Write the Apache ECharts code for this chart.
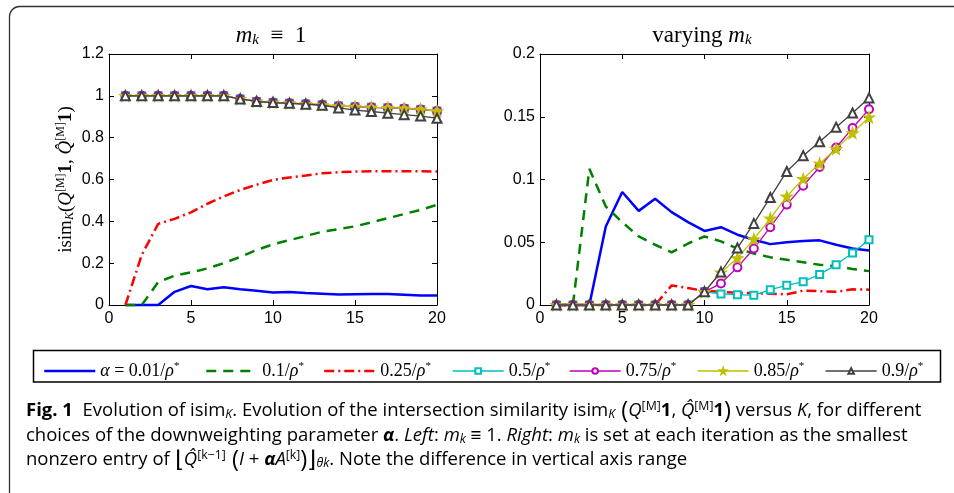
<!DOCTYPE html>
<html><head><meta charset="utf-8">
<script src="https://cdn.jsdelivr.net/npm/echarts@6/dist/echarts.min.js"></script>
<style>html,body{margin:0;padding:0;background:#fff}#c{width:954px;height:493px}</style>
</head><body><div id="c"></div>
<script>
// ---------- data ----------
const K = [1,2,3,4,5,6,7,8,9,10,11,12,13,14,15,16,17,18,19,20];
const SERIES_NAMES = ['α = 0.01/ρ*','0.1/ρ*','0.25/ρ*','0.5/ρ*','0.75/ρ*','0.85/ρ*','0.9/ρ*'];
const X_TICKS = [0,5,10,15,20];
const LEFT_Y_TICKS = [0,0.2,0.4,0.6,0.8,1,1.2];
const RIGHT_Y_TICKS = [0,0.05,0.1,0.15,0.2];

// left panel: m_k = 1
const L_001 = [0,0,0,0.063,0.091,0.075,0.085,0.075,0.068,0.060,0.062,0.057,0.054,0.050,0.051,0.052,0.052,0.049,0.046,0.045];
const L_01  = [0,0,0.11,0.14,0.156,0.175,0.2,0.23,0.263,0.29,0.31,0.33,0.35,0.363,0.376,0.395,0.415,0.435,0.455,0.479];
const L_025 = [0,0.24,0.388,0.412,0.443,0.484,0.519,0.55,0.575,0.598,0.61,0.619,0.63,0.635,0.638,0.639,0.639,0.639,0.639,0.638];
const L_05  = [1,1,1,1,1,1,1,0.985,0.973,0.968,0.965,0.961,0.957,0.951,0.948,0.945,0.943,0.94,0.935,0.927];
const L_075 = [1,1,1,1,1,1,1,0.985,0.973,0.968,0.965,0.961,0.957,0.951,0.948,0.945,0.943,0.94,0.935,0.927];
const L_085 = [1,1,1,1,1,1,1,0.985,0.973,0.968,0.965,0.961,0.957,0.951,0.948,0.945,0.943,0.94,0.935,0.927];
const L_09  = [1,1,1,1,1,1,1,0.985,0.973,0.968,0.964,0.96,0.955,0.942,0.932,0.925,0.917,0.91,0.903,0.893];

// right panel: varying m_k
const R_001 = [0,0,0,0.0626,0.09,0.075,0.0846,0.074,0.066,0.059,0.062,0.056,0.052,0.0485,0.05,0.051,0.0515,0.048,0.045,0.0435];
const R_01  = [0,0,0.1085,0.0785,0.066,0.0546,0.048,0.042,0.049,0.0546,0.0507,0.045,0.041,0.038,0.036,0.034,0.032,0.031,0.0287,0.027];
const R_025 = [0,0,0,0,0,0,0,0.0156,0.0135,0.0112,0.0105,0.0098,0.0093,0.009,0.0085,0.0114,0.011,0.0105,0.0125,0.0122];
const R_05  = [0,0,0,0,0,0,0,0,0,0.0105,0.0088,0.0082,0.0077,0.0122,0.0157,0.0186,0.0244,0.032,0.0414,0.052];
const R_075 = [0,0,0,0,0,0,0,0,0,0.0105,0.0172,0.030,0.045,0.062,0.080,0.095,0.11,0.1255,0.141,0.156];
const R_085 = [0,0,0,0,0,0,0,0,0,0.0105,0.026,0.0374,0.0525,0.069,0.0865,0.1005,0.1127,0.1244,0.137,0.1496];
const R_09  = [0,0,0,0,0,0,0,0,0,0.0105,0.0263,0.0454,0.065,0.0857,0.1064,0.119,0.13,0.1417,0.153,0.165];

const LEFT_DATA  = [L_001, L_01, L_025, L_05, L_075, L_085, L_09];
const RIGHT_DATA = [R_001, R_01, R_025, R_05, R_075, R_085, R_09];

// ---------- styles ----------
const SANS = '"Liberation Sans", Arial, Helvetica, sans-serif';
const SERIF = '"Liberation Serif", "Times New Roman", serif';
const CAP = '"Open Sans", "Noto Sans", sans-serif';
const STAR = 'path://M50,0 L61.8,35.1 L98.1,34.5 L69,56.3 L79.4,90.5 L50,70 L20.6,90.5 L31,56.3 L1.9,34.5 L38.2,35.1 Z';
const STYLE = [
  {color:'#0000FF', width:2.5, type:'solid', symbol:'none', size:0},
  {color:'#008000', width:2.5, type:[10,7], symbol:'none', size:0},
  {color:'#FF0000', width:2.5, type:[10,4,2,4], symbol:'none', size:0},
  {color:'#00BFBF', width:1.3, type:'solid', symbol:'emptyRect', size:7},
  {color:'#BF00BF', width:1.3, type:'solid', symbol:'emptyCircle', size:8},
  {color:'#BFBF00', width:1.3, type:'solid', symbol:STAR, size:11},
  {color:'#404040', width:1.3, type:'solid', symbol:'emptyTriangle', size:9}
];
const LEG_X = [43, 205, 323, 452, 569, 697, 825];

function pairs(arr){ return K.map((k,i)=>[k, arr[i]]); }

function mkSeries(dataArr, xi, yi){
  return dataArr.map((d,i)=>{
    const s = STYLE[i];
    return {
      type:'line', name: SERIES_NAMES[i], xAxisIndex: xi, yAxisIndex: yi,
      data: pairs(d), clip:false, z: 2+i,
      showSymbol: s.symbol !== 'none', symbol: s.symbol, symbolSize: s.size,
      lineStyle:{color:s.color, width:s.width, type:s.type},
      itemStyle:{color:s.color, borderColor:s.color, borderWidth:1.2},
      emphasis:{disabled:true}, animation:false
    };
  });
}

function xAxes(gi){
  return [
    {type:'value', gridIndex:gi, min:0, max:20, interval:5, position:'bottom',
     axisLine:{show:true, onZero:false, lineStyle:{color:'#000', width:1}},
     axisTick:{show:true, inside:true, length:5, lineStyle:{color:'#000'}},
     axisLabel:{show:true, margin:6, color:'#000', fontFamily:SANS, fontSize:16},
     splitLine:{show:false}},
    {type:'value', gridIndex:gi, min:0, max:20, interval:5, position:'top',
     axisLine:{show:true, onZero:false, lineStyle:{color:'#000', width:1}},
     axisTick:{show:true, inside:true, length:5, lineStyle:{color:'#000'}},
     axisLabel:{show:false}, splitLine:{show:false}}
  ];
}
function yAxes(gi, max, interval, name){
  return [
    {type:'value', gridIndex:gi, min:0, max:max, interval:interval, position:'left',
     axisLine:{show:true, onZero:false, lineStyle:{color:'#000', width:1}},
     axisTick:{show:true, inside:true, length:5, lineStyle:{color:'#000'}},
     axisLabel:{show:true, margin:5, color:'#000', fontFamily:SANS, fontSize:16},
     splitLine:{show:false},
     name: name || '', nameLocation:'middle', nameGap:32, nameRotate:90,
     nameTextStyle:{color:'#000', fontFamily:SERIF, fontSize:19, rich:{
       r:{fontFamily:SERIF, fontSize:19, color:'#000'},
       i:{fontFamily:SERIF, fontSize:19, fontStyle:'italic', color:'#000'},
       b:{fontFamily:SERIF, fontSize:19, fontWeight:'bold', color:'#000'},
       sb:{fontFamily:SERIF, fontSize:12, fontStyle:'italic', color:'#000', padding:[8,0,0,0]},
       sp:{fontFamily:SERIF, fontSize:12, color:'#000', padding:[0,0,10,0]}
     }}},
    {type:'value', gridIndex:gi, min:0, max:max, interval:interval, position:'right',
     axisLine:{show:true, onZero:false, lineStyle:{color:'#000', width:1}},
     axisTick:{show:true, inside:true, length:5, lineStyle:{color:'#000'}},
     axisLabel:{show:false}, splitLine:{show:false}}
  ];
}

// legend rich text
const legRich = {
  n:{fontFamily:SERIF, fontSize:18, color:'#000'},
  i:{fontFamily:SERIF, fontSize:18, fontStyle:'italic', color:'#000'},
  s:{fontFamily:SERIF, fontSize:11, color:'#000', padding:[0,0,9,0]}
};
function legFmt(name){
  if (name.indexOf('α') === 0) {
    const v = name.replace('α = ','').replace('/ρ*','');
    return '{i|α}{n| = ' + v + '/}{i|ρ}{s|*}';
  }
  return '{n|' + name.replace('/ρ*','') + '/}{i|ρ}{s|*}';
}
const legends = SERIES_NAMES.map((nm,i)=>({
  data:[nm], left: LEG_X[i], top: 361, padding:0, itemGap:0,
  itemWidth:51, itemHeight:7, selectedMode:false,
  lineStyle:{width: STYLE[i].width},
  itemStyle: STYLE[i].symbol === 'none' ? {opacity:0} : {},
  formatter: legFmt, textStyle:{rich: legRich, fontFamily:SERIF, fontSize:18}
}));

// caption
const CS = 18;
const capRich = {
  n:{fontFamily:CAP, fontSize:CS, color:'#222'},
  b:{fontFamily:CAP, fontSize:CS, fontWeight:'bold', color:'#222'},
  i:{fontFamily:CAP, fontSize:CS, fontStyle:'italic', color:'#222'},
  bi:{fontFamily:CAP, fontSize:CS, fontStyle:'italic', fontWeight:'bold', color:'#222'},
  sb:{fontFamily:CAP, fontSize:12, fontStyle:'italic', color:'#222', padding:[8,0,0,0]},
  sp:{fontFamily:CAP, fontSize:12, color:'#222', padding:[0,0,8,0]},
  br:{fontFamily:CAP, fontSize:23, color:'#222'}
};
const CAP_LINES = [
  [['b','Fig. 1'],['n','  Evolution of isim'],['sb','K'],['n','. Evolution of the intersection similarity isim'],['sb','K'],['br',' ('],['i','Q'],['sp','[M]'],['b','1'],['n',', '],['i','Q\u0302'],['sp','[M]'],['b','1'],['br',')'],['n',' versus '],['i','K'],['n',', for different']],
  [['n','choices of the downweighting parameter '],['bi','α'],['n','. '],['i','Left'],['n',': '],['i','m'],['sb','k'],['n',' ≡ 1. '],['i','Right'],['n',': '],['i','m'],['sb','k'],['n',' is set at each iteration as the smallest']],
  [['n','nonzero entry of '],['br','⌊'],['i','Q\u0302'],['sp','[k−1]'],['br',' ('],['i','I'],['n',' + '],['bi','α'],['i','A'],['sp','[k]'],['br',')⌋'],['sb','θk'],['n','. Note the difference in vertical axis range']]
];
const CAP_Y = [411, 436, 460];
const mctx = document.createElement('canvas').getContext('2d');
function lineWidth(segs){
  let w = 0;
  segs.forEach(([k,t])=>{
    const st = capRich[k];
    mctx.font = (st.fontStyle||'normal')+' '+(st.fontWeight||'normal')+' '+st.fontSize+'px '+st.fontFamily;
    w += mctx.measureText(t).width;
  });
  return w;
}
const sc = ((892/lineWidth(CAP_LINES[0])) + (885/lineWidth(CAP_LINES[1])))/2;
const capGraphics = CAP_LINES.map((segs,i)=>({
  type:'text', x:26, y:CAP_Y[i], scaleX: sc,
  style:{text: segs.map(([k,t])=>'{'+k+'|'+t+'}').join(''), rich: capRich, verticalAlign:'middle', align:'left', fontFamily:CAP, fontSize:CS}
}));

const titleRich = {
  r:{fontFamily:SERIF, fontSize:23, color:'#000'},
  i:{fontFamily:SERIF, fontSize:23, fontStyle:'italic', color:'#000'},
  sb:{fontFamily:SERIF, fontSize:15, fontStyle:'italic', color:'#000', padding:[8,0,0,0]}
};

const chart = echarts.init(document.getElementById('c'), null, {renderer:'canvas'});
chart.setOption({
  animation:false,
  backgroundColor:'#fff',
  grid:[
    {left:109, top:54, width:328, height:251, outerBoundsMode:'none', containLabel:false},
    {left:540, top:54, width:329, height:251, outerBoundsMode:'none', containLabel:false}
  ],
  xAxis: [].concat(xAxes(0), xAxes(1)),
  yAxis: [].concat(
    yAxes(0, 1.2, 0.2, '{r|isim}{sb|K}{r|(}{i|Q}{sp|[M]}{b|1}{r|, }{i|Q\u0302}{sp|[M]}{b|1}{r|)}'),
    yAxes(1, 0.2, 0.05, '')
  ),
  legend: legends,
  series: [].concat(mkSeries(LEFT_DATA, 0, 0), mkSeries(RIGHT_DATA, 2, 2)),
  graphic: [
    {type:'rect', shape:{x:9.5, y:6.5, width:1000, height:1000, r:10}, style:{fill:'none', stroke:'#333', lineWidth:1.3}, silent:true},
    {type:'rect', shape:{x:33.5, y:350.5, width:907, height:31.5}, style:{fill:'none', stroke:'#000', lineWidth:1.5}, silent:true},
    {type:'text', x:271, y:36, style:{text:'{i|m}{sb|k}{r|\u2002≡\u20021}', rich:titleRich, align:'center', verticalAlign:'middle'}},
    {type:'text', x:702, y:36, style:{text:'{r|varying }{i|m}{sb|k}', rich:titleRich, align:'center', verticalAlign:'middle'}}
  ].concat(capGraphics)
});
</script>
</body></html>
